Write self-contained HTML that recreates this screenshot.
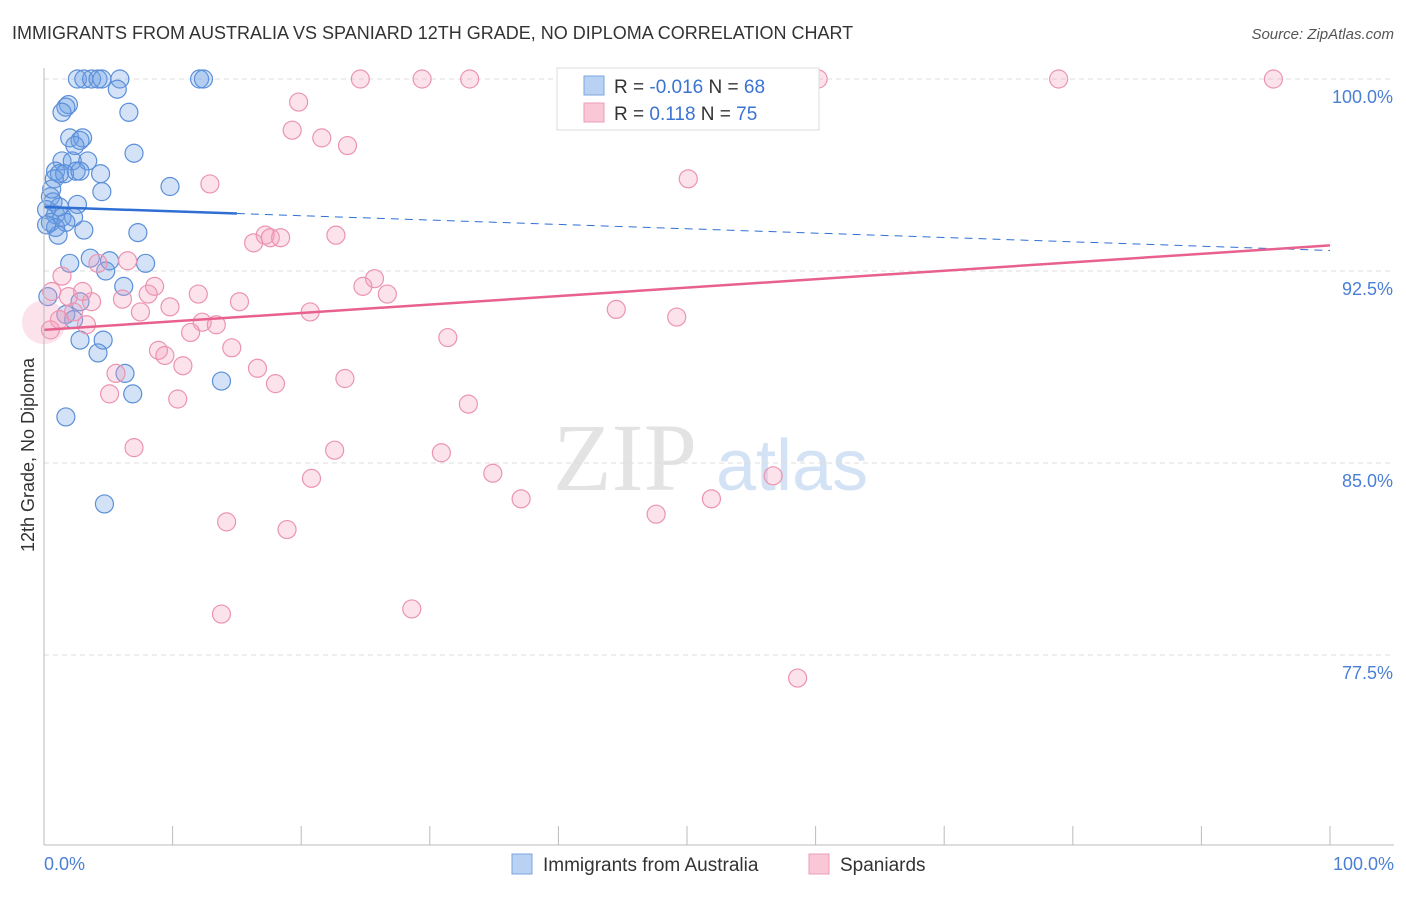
<!DOCTYPE html>
<html><head><meta charset="utf-8"><style>
body{margin:0;background:#fff;font-family:"Liberation Sans",sans-serif;}
</style></head><body>
<svg id="c" width="1406" height="892" xmlns="http://www.w3.org/2000/svg" style="font-family:'Liberation Sans',sans-serif">
<text x="12" y="39" font-size="18" fill="#333">IMMIGRANTS FROM AUSTRALIA VS SPANIARD 12TH GRADE, NO DIPLOMA CORRELATION CHART</text>
<text x="1394" y="39" font-size="15" fill="#555" text-anchor="end" font-style="italic">Source: ZipAtlas.com</text>
<text x="34" y="455" font-size="18" fill="#333" text-anchor="middle" transform="rotate(-90 34 455)">12th Grade, No Diploma</text>
<g><text x="553" y="490" font-size="96" fill="#ddd" font-family="Liberation Serif,serif" opacity="0.8">ZIP</text><text x="716" y="490" font-size="72" fill="#c9dcf2" opacity="0.8">atlas</text></g>
<g id="grid"></g><g id="pts"></g><g id="lines"></g>
<line x1="44" y1="68" x2="44" y2="845" stroke="#bbb"/>
<line x1="44" y1="845" x2="1394" y2="845" stroke="#bbb"/>
<g id="xt"></g>
<text x="44" y="870" font-size="18" fill="#4a7fd4">0.0%</text>
<text x="1394" y="870" font-size="18" fill="#4a7fd4" text-anchor="end">100.0%</text>
<g>
<rect x="557" y="68" width="262" height="62" fill="#fff" stroke="#ddd"/>
<rect x="584" y="76" width="20" height="19" fill="#b9d2f3" stroke="#7aa6e3"/>
<rect x="584" y="103" width="20" height="19" fill="#f9c7d6" stroke="#ee9db7"/>
<text x="614" y="93" font-size="19" fill="#333">R = <tspan fill="#3b73d1">-0.016</tspan>   N = <tspan fill="#3b73d1">68</tspan></text>
<text x="614" y="120" font-size="19" fill="#333">R =    <tspan fill="#3b73d1">0.118</tspan>   N = <tspan fill="#3b73d1">75</tspan></text>
</g>
<g>
<rect x="512" y="854" width="20" height="20" fill="#b9d2f3" stroke="#7aa6e3"/>
<text x="543" y="871" font-size="19" fill="#333">Immigrants from Australia</text>
<rect x="809" y="854" width="20" height="20" fill="#f9c7d6" stroke="#ee9db7"/>
<text x="840" y="871" font-size="19" fill="#333">Spaniards</text>
</g>
</svg>
<script>
const yTicks=[100,92.5,85,77.5];
const yTickLabels=["100.0%","92.5%","85.0%","77.5%"];
const xTickVals=[0,10,20,30,40,50,60,70,80,90,100];
const blueX=[2.6,3.1,3.7,4.2,4.5,5.9,12.1,12.4,5.7,1.9,1.7,1.4,6.6,2.0,3.0,2.8,2.4,7.0,1.4,2.2,3.4,0.9,2.5,1.2,1.6,4.4,2.8,0.8,9.8,4.5,0.5,0.7,2.6,0.2,0.9,1.4,2.3,0.5,1.7,0.9,1.1,3.1,7.3,3.6,5.1,7.9,2.0,4.8,6.2,0.3,2.8,1.7,2.3,2.8,4.6,4.2,6.3,13.8,6.9,1.7,4.7,0.2,0.6,1.2];
const blueY=[100,100,100,100,100,100,100,100,99.6,99.0,98.9,98.7,98.7,97.7,97.7,97.6,97.4,97.1,96.8,96.8,96.8,96.4,96.4,96.3,96.3,96.3,96.4,96.1,95.8,95.6,95.4,95.2,95.1,94.9,94.7,94.6,94.6,94.4,94.4,94.2,93.9,94.1,94.0,93.0,92.9,92.8,92.8,92.5,91.9,91.5,91.3,90.8,90.6,89.8,89.8,89.3,88.5,88.2,87.7,86.8,83.4,94.3,95.7,95.0];
const pinkX=[24.6,29.4,33.1,40.8,60.2,78.9,95.6,19.8,19.3,21.6,23.6,12.9,50.1,16.3,17.2,17.6,18.4,22.7,4.2,6.5,1.4,8.6,25.7,24.8,26.7,0.6,1.9,3.7,6.1,8.1,12.0,15.2,9.8,7.5,44.5,49.2,12.3,13.4,20.7,31.4,3.3,11.4,14.6,8.9,9.4,10.8,16.6,5.6,23.4,18.0,5.1,10.4,33.0,7.0,22.6,30.9,34.9,20.8,37.1,51.9,56.7,47.6,14.2,18.9,28.6,13.8,58.6,0.5,2.3,1.2,3.0];
const pinkY=[100,100,100,100,100,100,100,99.1,98.0,97.7,97.4,95.9,96.1,93.6,93.9,93.8,93.8,93.9,92.8,92.9,92.3,91.9,92.2,91.9,91.6,91.7,91.5,91.3,91.4,91.6,91.6,91.3,91.1,90.9,91.0,90.7,90.5,90.4,90.9,89.9,90.4,90.1,89.5,89.4,89.2,88.8,88.7,88.5,88.3,88.1,87.7,87.5,87.3,85.6,85.5,85.4,84.6,84.4,83.6,83.6,84.5,83.0,82.7,82.4,79.3,79.1,76.6,90.2,90.9,90.6,91.7];
const blueTrend=[95.0,93.3];
const pinkTrend=[90.2,93.5];
const NS="http://www.w3.org/2000/svg";
const X=v=>44+v*12.86, Y=v=>79+(100-v)*25.6;
function mk(t,a,p){const e=document.createElementNS(NS,t);for(const k in a)e.setAttribute(k,a[k]);document.getElementById(p).appendChild(e);return e;}
yTicks.forEach((t,i)=>{
 const l=mk('line',{x1:44,x2:1394,y1:Y(t),y2:Y(t),stroke:'#ddd','stroke-dasharray':'5,4'},'grid');
 
 
 const tx=mk('text',{x:1393,y:Y(t)+24,'font-size':18,fill:'#4a7fd4','text-anchor':'end'},'grid');
 tx.textContent=yTickLabels[i];
 
 
});
xTickVals.forEach(v=>{
 const l=mk('line',{x1:X(v),x2:X(v),y1:826,y2:845,stroke:'#bbb'},'xt');
 
 
});
blueX.forEach((v,i)=>{
 const c=mk('circle',{cx:X(v),cy:Y(blueY[i]),r:9,fill:'rgba(110,160,230,0.3)',stroke:'#5b8fd9','stroke-width':1.2},'pts');
 
 
});
pinkX.forEach((v,i)=>{
 const c=mk('circle',{cx:X(v),cy:Y(pinkY[i]),r:9,fill:'rgba(245,160,190,0.3)',stroke:'#eb94b1','stroke-width':1.2},'pts');
 
 
});
const big=mk('circle',{cx:X(0),cy:Y(90.5),r:22,fill:'rgba(245,160,190,0.3)',stroke:'none'},'pts');


const bAt=v=>blueTrend[0]+(blueTrend[1]-blueTrend[0])*v/100;
let l=mk('line',{x1:X(0),y1:Y(bAt(0)),x2:X(15),y2:Y(bAt(15)),stroke:'#2f6fd4','stroke-width':2.5},'lines');


l=mk('line',{x1:X(15),y1:Y(bAt(15)),x2:X(100),y2:Y(bAt(100)),stroke:'#2f6fd4','stroke-width':1,'stroke-dasharray':'8,6'},'lines');


l=mk('line',{x1:X(0),y1:Y(pinkTrend[0]),x2:X(100),y2:Y(pinkTrend[1]),stroke:'#e8608e','stroke-width':2.5},'lines');


</script>
</body></html>
